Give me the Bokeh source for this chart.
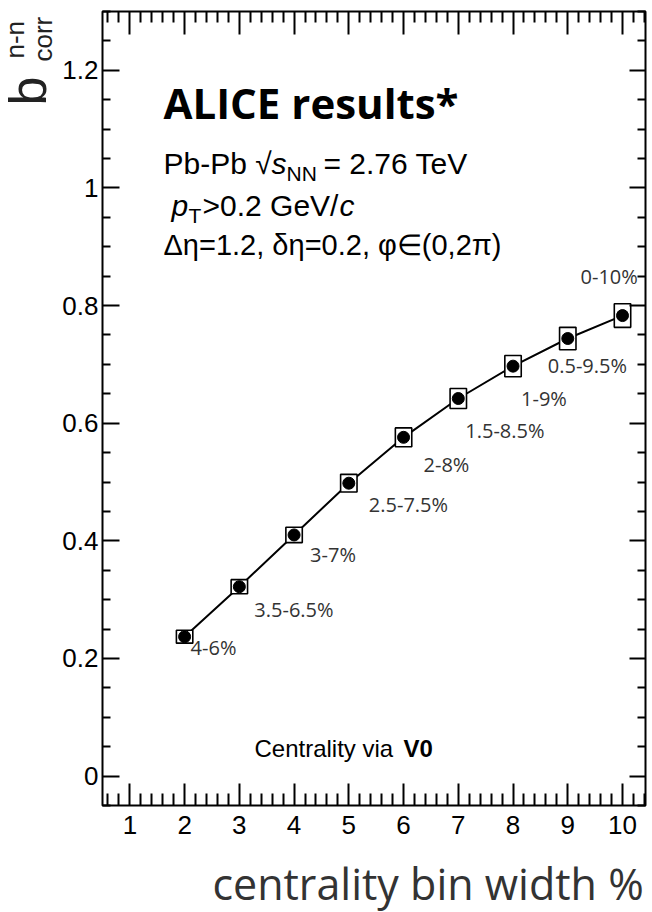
from math import pi
from bokeh.plotting import figure
from bokeh.layouts import row, column
from bokeh.models import LinearAxis, FixedTicker, Label, Range1d, ColumnDataSource
from bokeh.embed import file_html
from bokeh.resources import INLINE

# ---------------- data ----------------
bin_width = [2, 3, 4, 5, 6, 7, 8, 9, 10]
b_corr = [0.237, 0.322, 0.410, 0.498, 0.576, 0.642, 0.697, 0.744, 0.783]
sys_err = [0.011, 0.012, 0.013, 0.015, 0.016, 0.017, 0.018, 0.019, 0.020]
centrality_labels = ["4-6%", "3.5-6.5%", "3-7%", "2.5-7.5%", "2-8%",
                     "1.5-8.5%", "1-9%", "0.5-9.5%", "0-10%"]
x_ticks = [1, 2, 3, 4, 5, 6, 7, 8, 9, 10]
y_ticks = [0, 0.2, 0.4, 0.6, 0.8, 1.0, 1.2]
y_tick_labels = ["0", "0.2", "0.4", "0.6", "0.8", "1", "1.2"]

# ---------------- layout (page pixels) ----------------
W, H = 652, 912
TY_W = 58                      # strip holding the rotated y title
TX_H = 57                      # strip holding the x title
FL, FR, FT, FB = 102, 645, 11, 805   # frame edges on the page
XR = (0.5, 10.42)
YR = (-0.05, 1.3)
SHIFT = 0.38                   # baseline compensation (fraction of font size)

# label offsets in pixels (right, down) relative to each point
label_offsets = [(6, 18), (15, 30), (16, 27), (20, 29), (20, 35),
                 (7, 40), (8, 40), (-20, 35), (-42, -31)]


def dx(px):
    return XR[0] + (px - FL) * (XR[1] - XR[0]) / (FR - FL)


def dy(py):
    return YR[0] + (FB - py) * (YR[1] - YR[0]) / (FB - FT)


MAIN_W = W - TY_W
MAIN_H = H - TX_H
p = figure(width=MAIN_W, height=MAIN_H, x_range=Range1d(*XR), y_range=Range1d(*YR),
           output_backend="svg", toolbar_location=None,
           min_border_left=FL - TY_W, min_border_right=W - FR,
           min_border_top=FT, min_border_bottom=MAIN_H - FB)
p.grid.visible = False
p.outline_line_color = "black"
p.outline_line_width = 2
p.background_fill_color = "white"
p.border_fill_color = "white"

minor_x = [round(0.6 + 0.2 * i, 2) for i in range(50) if 0.6 + 0.2 * i < 10.42]
minor_x = [m for m in minor_x if abs(m - round(m)) > 1e-6]
minor_y = [round(-0.05 + 0.05 * i, 3) for i in range(28)]
minor_y = [m for m in minor_y if all(abs(m - t) > 1e-6 for t in y_ticks)]

xt = FixedTicker(ticks=x_ticks, minor_ticks=minor_x)
yt = FixedTicker(ticks=y_ticks, minor_ticks=minor_y)


def style_axis(ax, major_len, minor_len, labels=True, ticks=None):
    ax.axis_line_color = None
    ax.major_tick_in = major_len
    ax.major_tick_out = 0
    ax.minor_tick_in = minor_len
    ax.minor_tick_out = 0
    ax.major_tick_line_color = "black"
    ax.minor_tick_line_color = "black"
    ax.major_tick_line_width = 2
    ax.minor_tick_line_width = 2
    if labels:
        ax.major_label_text_font = "Liberation Sans"
        ax.major_label_text_font_size = "26px"
        ax.major_label_text_color = "black"
    else:
        ax.major_label_overrides = {t: "" for t in ticks}
        ax.major_label_text_font_size = "1px"
        ax.major_label_standoff = 0


xb = p.xaxis[0]
xb.ticker = xt
style_axis(xb, 22, 12)
xb.major_label_standoff = 10

yl = p.yaxis[0]
yl.ticker = yt
yl.major_label_overrides = {t: s for t, s in zip(y_ticks, y_tick_labels)}
style_axis(yl, 17, 8)
yl.major_label_standoff = 4

xa = LinearAxis(ticker=xt)
style_axis(xa, 23, 11, labels=False, ticks=x_ticks)
p.add_layout(xa, "above")

yr = LinearAxis(ticker=yt)
style_axis(yr, 16, 8, labels=False, ticks=y_ticks)
p.add_layout(yr, "right")

# ---------------- data marks ----------------
src = ColumnDataSource(dict(x=bin_width, y=b_corr,
                            h=[2 * e for e in sys_err]))
p.line("x", "y", source=src, line_color="black", line_width=2)
p.rect("x", "y", width=0.3, height="h", source=src, fill_color="white",
       line_color="black", line_width=1.6)
p.scatter("x", "y", source=src, size=12, fill_color="black", line_color="black")

for xv, yv, txt, (ox, oy) in zip(bin_width, b_corr, centrality_labels, label_offsets):
    p.add_layout(Label(x=xv, y=yv, x_offset=ox, y_offset=-oy + SHIFT * 20, text=txt,
                       text_font="Open Sans", text_font_size="20px",
                       text_color="#333333", text_align="left",
                       text_baseline="alphabetic"))


# ---------------- text annotations ----------------
def lab(fig, xmap, ymap, text, px, py, size, font="Liberation Sans", style="normal",
        color="black", align="left", angle=0.0):
    if angle == 0.0:
        py = py - SHIFT * size
    else:
        px = px - SHIFT * size
    fig.add_layout(Label(x=xmap(px), y=ymap(py), text=text, text_font=font,
                         text_font_size=f"{size}px", text_font_style=style,
                         text_color=color, text_align=align,
                         text_baseline="alphabetic", angle=angle))


def L(*a, **k):
    lab(p, dx, dy, *a, **k)


L("ALICE results*", 163, 118, 42, font="Open Sans", style="bold")

F = 30
L("Pb-Pb \u221a", 163, 174, F)
L("s", 271, 174, F, style="italic")
L("NN", 286, 181, 21)
L("= 2.76 TeV", 323, 174, F)

L("p", 171, 216, F, style="italic")
L("T", 188, 223, 21)
L(">0.2 GeV/", 202, 216, F)
L("c", 339, 216, F, style="italic")

L("\u0394\u03b7=1.2, \u03b4\u03b7=0.2, \u03c6\u2208(0,2\u03c0)", 163, 256, 29)

L("Centrality via ", 254, 757, 24)
L("V0", 403, 757, 24, style="bold")

# ---------------- y title strip ----------------
ty = figure(width=TY_W, height=H, x_range=Range1d(0, TY_W), y_range=Range1d(0, H),
            output_backend="svg", toolbar_location=None,
            x_axis_location=None, y_axis_location=None, min_border=0)
ty.grid.visible = False
ty.outline_line_color = None
ty.border_fill_color = "white"


def T(*a, **k):
    lab(ty, lambda v: v, lambda v: H - v, *a, **k)


T("b", 47, 105, 52, color="#222222", angle=pi / 2)
T("n-n", 24, 58, 26, color="#222222", angle=pi / 2)
T("corr", 52, 61, 26, color="#222222", angle=pi / 2)

# ---------------- x title strip ----------------
tx = figure(width=MAIN_W, height=TX_H, x_range=Range1d(TY_W, W), y_range=Range1d(0, TX_H),
            output_backend="svg", toolbar_location=None,
            x_axis_location=None, y_axis_location=None, min_border=0)
tx.grid.visible = False
tx.outline_line_color = None
tx.border_fill_color = "white"


def X(*a, **k):
    lab(tx, lambda v: v, lambda v: H - v, *a, **k)


X("centrality bin width %", 650, 899, 43, font="Open Sans", color="#333333",
  align="right")

layout = row(ty, column(p, tx, spacing=0), spacing=0)
open("out.html", "w").write(file_html(layout, INLINE))
